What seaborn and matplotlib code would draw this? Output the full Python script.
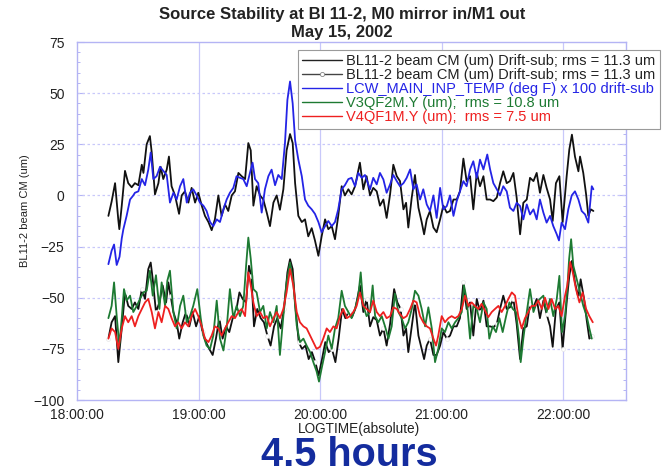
import numpy as np
import seaborn as sns
import matplotlib
matplotlib.use("Agg")
import matplotlib.pyplot as plt
from matplotlib.lines import Line2D
from matplotlib.ticker import MultipleLocator

sns.set_theme(style="white")
plt.rcParams['font.family'] = ['Liberation Sans', 'DejaVu Sans']

# ---- data: time in minutes after 18:00:00, values in um ----
beam_t = [15.5, 17.1, 18.8, 20.4, 20.9, 22.1, 23.7, 25.3, 27.0, 28.6,
          30.3, 32.0, 32.8, 34.4, 36.0, 36.9, 38.5, 40.2, 41.3, 42.6,
          44.3, 45.4, 46.7, 48.4, 50.4, 51.7, 53.3, 55.0, 56.6, 58.3,
          59.9, 61.6, 63.2, 64.9, 66.5, 68.1, 69.8, 71.4, 73.1, 74.7,
          76.4, 78.0, 79.7, 81.3, 83.0, 84.6, 85.8, 87.1, 88.7, 90.4,
          92.0, 93.7, 95.3, 97.0, 98.6, 100.2, 101.9, 103.5, 105.2, 106.5,
          107.7, 109.3, 111.0, 112.6, 114.2, 115.9, 117.5, 119.2, 120.8, 122.5,
          124.1, 125.8, 127.4, 129.0, 130.7, 132.3, 134.0, 135.6, 137.3, 139.7,
          141.4, 143.0, 144.7, 146.3, 148.0, 149.6, 151.3, 152.9, 154.6, 156.2,
          157.9, 159.5, 161.2, 162.5, 163.6, 165.3, 166.9, 168.6, 170.2, 171.4,
          172.7, 174.3, 176.0, 177.6, 179.3, 180.9, 182.6, 184.2, 185.9, 187.5,
          189.1, 190.8, 192.4, 194.1, 195.7, 197.4, 199.0, 200.7, 202.3, 204.0,
          205.6, 207.3, 208.9, 210.5, 212.2, 213.8, 215.5, 217.1, 218.8, 220.4,
          222.1, 223.7, 225.4, 227.0, 228.6, 230.3, 231.9, 233.6, 234.9, 236.5,
          238.2, 239.8, 241.8, 243.1, 244.4, 245.9, 247.6, 248.4, 250.0, 251.4,
          252.5, 253.7, 255.0]
beam_um = [-10, -3, 6, -12, -16.5, -5, 12, 6, 4, 6,
           5, 15, 11, 25, 29, 21, 0.5, 6, 14, 8,
           12.6, 19, 4.5, 0, -9, 0, 2, -3.5, 3.7, -3.5,
           1.3, -5, -10, -13, -17, -11.7, 0, -10, -4.4, -7.6,
           0, 2, 11, 9.4, 8, 25.6, 22, -5, 4.5, 0,
           -2, -8.4, -15, -3.5, 0, -7, 3, 22, 30, 25.6,
           6, -10, -13, -11.7, -20, -16, -22, -29.5, -20, -11.7,
           -16.5, -15, -21.4, -10, 4.5, 0, 3, 0.5, 4.5, 16,
           3, 9.4, 0, 3.7, 2, -5, -2, -11, 0.5, 15,
           9.4, 7, -6.8, -3.6, -15.7, -1, 10, -6, -13, -19,
           -11.7, -7.6, -15.7, -18, -11.7, -5, -8.4, -7.6, -2, -2,
           2, 18, 7, 9.4, -6.8, 11, 4.5, 9.4, -2, -2,
           -2.8, -1, 6, 11.8, 6, 7, 11, -1, -19, -3.6,
           -2, 8.6, 7, 11, 1.3, 10, 3.7, -2, -12.5, 6,
           9.4, -13, 9.4, 22.4, 29.7, 19, 11.8, 19, 11, 0.5,
           -10, -6.8, -7.6]

beam2_t = [15.5, 17.1, 18.8, 20.4, 22.1, 23.7, 25.3, 27.0, 28.6, 30.3,
           32.0, 33.6, 35.2, 36.4, 37.4, 39.0, 40.7, 42.3, 44.0, 45.1,
           46.2, 47.6, 49.2, 50.5, 52.2, 53.8, 55.5, 57.1, 58.8, 60.4,
           62.0, 63.7, 65.3, 67.0, 68.6, 70.3, 71.9, 73.6, 75.2, 76.9,
           78.5, 80.2, 81.8, 83.5, 84.9, 86.1, 87.4, 89.0, 90.7, 92.3,
           94.0, 95.6, 97.3, 98.9, 100.6, 102.2, 103.9, 105.2, 106.5, 107.8,
           109.5, 111.1, 112.8, 114.4, 116.0, 117.7, 119.3, 121.0, 122.6, 124.3,
           125.9, 127.6, 129.2, 130.9, 132.5, 134.1, 135.8, 137.4, 139.7, 141.4,
           143.0, 144.7, 146.3, 148.0, 149.6, 151.3, 152.9, 154.6, 156.6, 158.2,
           159.8, 161.2, 162.5, 163.6, 165.3, 166.9, 168.6, 170.2, 171.4, 172.7,
           174.3, 176.0, 177.6, 179.3, 180.9, 182.6, 184.2, 185.9, 187.5, 189.1,
           190.8, 192.4, 194.1, 195.7, 197.4, 199.0, 200.7, 202.3, 204.0, 205.6,
           207.3, 208.9, 210.5, 212.2, 213.8, 215.5, 217.1, 218.8, 220.4, 222.1,
           223.7, 225.4, 227.0, 228.6, 230.3, 231.9, 233.6, 234.9, 236.5, 238.2,
           239.8, 241.8, 243.1, 244.4, 245.9, 247.6, 248.7, 250.4, 251.7, 253.0,
           254.3]
beam2_um = [-70, -62, -59, -81.5, -65, -47.4, -54, -55.5, -52.3, -55.5,
            -45.8, -50.6, -36, -32.8, -41, -57, -52.3, -44, -52.3, -42.5,
            -49, -57, -62, -70, -62, -57, -64, -57, -64, -59,
            -66.8, -71.7, -75, -78, -70, -60, -70, -64, -66.8, -60,
            -57, -47.4, -50.6, -52.3, -34.4, -39.3, -64, -55.5, -60, -62,
            -68.5, -73.4, -64, -60, -65, -55.5, -37.6, -31.2, -36, -54,
            -71.7, -75, -73.4, -80, -76.6, -81.5, -88, -80, -71.7, -76.6,
            -75, -81.5, -70, -55.5, -60, -57, -59.5, -55.5, -44, -57,
            -50.6, -64, -59.5, -61, -68.5, -65, -73.4, -62.8, -45.8, -52.3,
            -55.5, -68.5, -65, -76.6, -64, -52.3, -68.5, -75, -80, -73.4,
            -70, -78, -78, -73.4, -66.8, -70, -68.5, -64, -64, -60,
            -42.5, -55.5, -52.3, -68.5, -50.6, -57, -51.4, -64, -64, -64.5,
            -62.8, -55.5, -49, -55.5, -54.7, -50.6, -62.8, -80, -65, -64,
            -53, -54.7, -50.6, -60, -51.4, -58, -64, -74, -55.5, -52.3,
            -75, -52.3, -39.3, -32, -42.5, -50, -41, -50.6, -61, -70,
            -68.5]

lcw_t = [15.5, 17.1, 18.3, 19.6, 21.0, 22.1, 22.9, 24.5, 26.2, 27.8,
         28.6, 30.3, 32.0, 33.6, 35.2, 36.4, 37.7, 39.3, 41.0, 42.6,
         44.3, 45.9, 47.6, 49.2, 50.9, 52.5, 54.2, 55.8, 57.4, 59.1,
         60.7, 62.4, 64.0, 65.7, 67.3, 69.0, 70.6, 72.3, 73.9, 75.5,
         77.2, 78.8, 80.5, 82.1, 83.8, 85.4, 86.7, 87.9, 89.5, 91.2,
         92.8, 94.5, 96.1, 97.8, 99.4, 101.1, 102.7, 103.9, 105.2, 106.5,
         107.7, 109.3, 111.0, 112.6, 114.2, 115.9, 117.5, 119.2, 120.8, 122.5,
         124.1, 125.8, 127.4, 129.0, 130.7, 132.3, 134.0, 135.6, 137.3, 138.9,
         140.6, 142.2, 144.7, 146.3, 148.0, 149.6, 151.3, 152.9, 154.6, 156.2,
         157.9, 159.5, 161.2, 162.8, 164.5, 166.1, 167.7, 169.4, 171.0, 172.7,
         174.3, 176.0, 177.6, 179.3, 180.9, 182.6, 184.2, 185.9, 187.5, 189.1,
         190.8, 192.4, 194.1, 195.7, 197.4, 199.0, 200.7, 202.6, 204.0, 205.6,
         207.3, 208.9, 210.5, 212.2, 213.8, 215.5, 217.1, 218.8, 220.4, 222.1,
         223.7, 225.4, 227.0, 228.6, 230.3, 231.9, 233.6, 235.2, 236.9, 238.0,
         239.3, 241.0, 242.6, 244.3, 245.9, 247.6, 249.2, 250.9, 252.5, 254.2,
         255.0]
lcw_val = [-33.6, -27, -24, -34, -30, -21, -16.5, -10, -2, 0,
           1.3, 2, 8, 5, 12.6, 21, 8, 9.4, 14, 12,
           10, -3.5, 1.3, -2, 4.5, 8, -3.5, 1.3, 3, 0,
           -3.5, -5, -7.6, -13, -15, -11.7, -13, -6.8, -2, 1.3,
           3.7, 9.4, 8.6, 8, 4.5, 11, 16, 8, 6, -8.4,
           3, 9.4, 12.6, 5, 10, 8, 25.6, 46.7, 55.7, 45,
           27, 17.5, 9.4, -2, -5, -6.8, -9, -13, -18, -15,
           -12.5, -15, -13, -6.8, 3, 5, 8, 8.6, 4.5, 11,
           8.6, 10, 3, 8.6, 5.4, 11, 7.8, 1.3, 5.4, 10,
           7, 4.5, 6, 8.6, 12.7, 3, 5.4, -2, 3, -4.4,
           -7.6, 0, -11, 3.7, -6.8, -5.2, 0, -10, -2.8, 2,
           7, 4.5, 12.7, 16.7, 8.6, 17.5, 12.7, 20, 12.7, 6,
           3, 0, 4.5, 2, -6, -7.6, -3.6, -5.2, -11.7, -4.4,
           -9.3, -6.8, -11.7, -2, -8.4, -13.3, -10, -15, -19, -22,
           -13.3, -16.5, -6.8, 0, 2, -2, -7.6, -9.3, -13.3, 4.5,
           3]

v3_t = [15.5, 17.1, 18.3, 19.6, 20.9, 22.1, 23.2, 24.5, 26.2, 27.8,
        29.5, 31.1, 32.8, 34.4, 36.0, 37.4, 39.0, 40.7, 41.8, 43.5,
        44.6, 45.9, 47.6, 49.2, 50.9, 52.5, 54.2, 55.8, 57.4, 59.4,
        61.1, 62.4, 64.0, 65.7, 67.3, 69.0, 70.6, 72.3, 73.9, 75.5,
        77.2, 78.8, 80.5, 82.1, 83.5, 84.6, 85.8, 87.1, 88.7, 90.4,
        92.0, 93.7, 95.3, 97.0, 98.6, 100.2, 101.9, 103.5, 105.2, 106.8,
        108.5, 110.1, 111.8, 113.4, 115.1, 116.7, 118.3, 119.5, 120.8, 122.5,
        124.1, 125.8, 127.4, 129.0, 130.7, 132.3, 134.0, 135.6, 137.3, 138.9,
        140.1, 141.4, 143.0, 144.7, 146.0, 147.2, 148.8, 150.5, 152.1, 153.8,
        155.4, 157.0, 158.7, 160.3, 162.0, 163.6, 165.3, 166.9, 168.6, 170.2,
        171.9, 173.5, 175.2, 176.8, 178.4, 180.1, 181.7, 183.4, 185.0, 186.7,
        188.3, 190.0, 191.1, 192.4, 194.1, 195.7, 197.4, 199.0, 200.7, 202.3,
        203.6, 205.3, 206.9, 208.6, 210.2, 211.9, 213.5, 215.2, 216.8, 218.3,
        219.1, 220.4, 222.1, 223.7, 225.4, 227.0, 228.6, 230.3, 231.9, 233.6,
        235.2, 236.9, 238.2, 239.5, 241.0, 242.1, 243.0, 244.0, 245.1, 246.8,
        248.4, 250.0, 251.7, 253.0, 254.2]
v3_um = [-60, -54, -42.5, -59, -73.4, -60, -45.8, -51.4, -49, -57,
         -54, -50.6, -47.4, -46.6, -36.8, -49, -39, -55.5, -42.5, -54,
         -41.7, -36.8, -57, -65, -54, -49, -62, -59, -54, -45.8,
         -60, -68.5, -73.4, -75, -68.5, -51.4, -70, -75.8, -65, -45.8,
         -60, -54, -59, -54, -34.4, -20.6, -31, -45.8, -47.4, -57,
         -54, -65, -57, -62, -54, -78, -59, -42.5, -32.8, -42.5,
         -63.6, -71.7, -70, -73.4, -76.6, -81.5, -86, -91, -84.6, -76.6,
         -68.5, -75, -65, -60, -46.6, -54, -57, -60, -55.5, -49,
         -37.6, -54, -59, -57, -44, -59, -62, -59, -64, -70,
         -64, -48, -57, -60, -65, -62, -55.5, -46.6, -49, -55.5,
         -64, -54.7, -65, -81.5, -75, -65, -66.8, -62, -65, -62,
         -60, -57, -44, -50.6, -70, -54, -55.5, -62, -52.3, -55.5,
         -70, -64, -66.8, -60, -66.8, -59, -52.3, -55.5, -57, -70,
         -81.5, -70, -57, -45.8, -57, -52.3, -50.6, -49, -57, -50.6,
         -59, -50.6, -39.3, -66.8, -59, -45.8, -31.2, -21.4, -34.4, -41,
         -47.4, -54, -59, -65, -70]

v4_t = [15.5, 17.1, 18.8, 20.4, 22.1, 23.7, 25.3, 27.0, 28.6, 30.3,
        32.0, 33.6, 35.2, 36.9, 38.5, 40.2, 41.8, 43.5, 45.1, 46.7,
        48.4, 50.0, 51.7, 53.3, 55.0, 56.6, 58.3, 59.9, 61.6, 63.2,
        64.9, 66.5, 68.1, 69.8, 71.4, 73.1, 74.7, 76.4, 78.0, 79.7,
        81.3, 83.0, 84.6, 85.8, 87.1, 88.7, 90.4, 92.0, 93.7, 95.3,
        97.0, 98.6, 100.2, 101.9, 103.5, 105.2, 106.8, 108.5, 110.1, 111.8,
        113.4, 115.1, 116.7, 118.3, 120.0, 121.6, 123.3, 124.9, 126.6, 128.2,
        129.9, 131.5, 133.2, 134.8, 136.4, 138.1, 139.7, 141.4, 143.0, 144.7,
        146.3, 148.0, 149.6, 151.3, 152.9, 154.6, 156.2, 157.9, 159.5, 161.2,
        162.8, 164.5, 166.1, 167.7, 169.4, 171.0, 172.7, 174.3, 176.0, 177.3,
        178.4, 180.1, 181.7, 183.4, 185.0, 186.7, 188.3, 190.0, 191.6, 193.3,
        194.9, 196.5, 198.2, 199.8, 201.5, 203.1, 204.8, 206.4, 208.1, 209.7,
        211.4, 213.0, 214.7, 216.3, 217.9, 219.6, 221.2, 222.9, 224.5, 226.2,
        227.8, 229.5, 231.1, 232.8, 234.4, 236.1, 237.7, 239.3, 241.0, 242.1,
        243.5, 244.8, 246.4, 248.1, 249.7, 251.4, 253.0, 254.7]
v4_um = [-70, -65, -66.8, -75, -65, -59, -62, -59, -64, -59,
         -55.5, -52.3, -50.6, -57, -65, -57, -62, -54, -55.5, -60,
         -64, -62, -65, -62, -64, -59, -55.5, -59, -64, -70,
         -71.7, -68.5, -64, -65, -68.5, -65, -62, -59, -60, -57,
         -55.5, -59, -37.6, -44, -52.3, -59, -57, -60, -59, -64,
         -60, -57, -60, -55.5, -47.4, -36, -44, -57, -62, -64,
         -65, -68.5, -71.7, -75, -74, -70, -65, -66.8, -64, -65,
         -59, -55.5, -60, -59, -57, -54, -47.4, -54, -55.5, -57,
         -51.4, -57, -59, -57, -60, -59, -54.7, -55.5, -58, -60,
         -59, -55.5, -51.4, -52.3, -59, -62, -64, -65, -70, -73.4,
         -68.5, -59, -62, -60, -59, -60, -59, -55.5, -49, -54,
         -52.3, -54, -55.5, -53, -56.3, -59.5, -57, -55.5, -54, -57,
         -54, -50.6, -47.4, -49, -59, -65, -60, -57, -54, -54,
         -51.4, -55.5, -50, -55.5, -50.6, -55.5, -54, -59, -49, -44,
         -32.5, -37.6, -45.8, -52.3, -47.4, -55.5, -59, -62]

legend_labels = [
    "BL11-2 beam CM (um) Drift-sub; rms = 11.3 um",
    "BL11-2 beam CM (um) Drift-sub; rms = 11.3 um",
    "LCW_MAIN_INP_TEMP (deg F) x 100 drift-sub",
    "V3QF2M.Y (um);  rms = 10.8 um",
    "V4QF1M.Y (um);  rms = 7.5 um",
]
hour_ticks = [18, 19, 20, 21, 22]
hour_labels = ["18:00:00", "19:00:00", "20:00:00", "21:00:00", "22:00:00"]
y_ticks = [-100, -75, -50, -25, 0, 25, 50, 75]

# ---- styling ----
C_BLACK = "#111111"
C_BLUE = "#2424e6"
C_GREEN = "#1d7a32"
C_RED = "#ee2020"
C_FRAME = "#b4b4f4"
C_GRID = "#c8c8fa"


def hours(minutes):
    return 18 + np.asarray(minutes, dtype=float) / 60.0


fig = plt.figure(figsize=(6.72, 4.75), dpi=100)
ax = fig.add_axes([77 / 672, 75 / 475, 549 / 672, 358 / 475])

lw = 1.3
sns.lineplot(x=hours(beam_t), y=beam_um, ax=ax, color=C_BLACK, lw=lw,
             estimator=None, sort=False, zorder=3)
sns.lineplot(x=hours(lcw_t), y=lcw_val, ax=ax, color=C_BLUE, lw=lw,
             estimator=None, sort=False, zorder=4)
sns.lineplot(x=hours(beam2_t), y=beam2_um, ax=ax, color=C_BLACK, lw=lw,
             estimator=None, sort=False, zorder=3, marker="o", markevery=5,
             markersize=2.8, mfc="white", mec="#e6e6e6", mew=0.5)
sns.lineplot(x=hours(v3_t), y=v3_um, ax=ax, color=C_GREEN, lw=lw,
             estimator=None, sort=False, zorder=4)
sns.lineplot(x=hours(v4_t), y=v4_um, ax=ax, color=C_RED, lw=lw,
             estimator=None, sort=False, zorder=5)

ax.set_xlim(18, 22 + 31.1 / 60)
ax.set_ylim(-100, 75)
ax.set_xticks(hour_ticks)
ax.set_xticklabels(hour_labels)
ax.set_yticks(y_ticks)
ax.yaxis.set_minor_locator(MultipleLocator(5))

ax.tick_params(axis="both", labelsize=10, labelcolor="#222222")
ax.tick_params(axis="x", length=0, pad=6)
ax.tick_params(axis="y", which="major", direction="in", length=5,
               color=C_FRAME, width=0.8, pad=9, left=True, right=True)
ax.tick_params(axis="y", which="minor", direction="in", length=2.5,
               color=C_FRAME, width=0.7, left=True, right=True)

for side in ["left", "right", "top", "bottom"]:
    ax.spines[side].set_visible(True)
    ax.spines[side].set_color(C_FRAME)
    ax.spines[side].set_linewidth(1.0)

# dotted value grid, solid hour grid
for yv in y_ticks[1:-1]:
    ax.axhline(yv, color=C_GRID, lw=0.9, ls=(0, (2, 2)), zorder=1)
for xv in hour_ticks[1:]:
    ax.axvline(xv, color=C_GRID, lw=0.9, zorder=1)

ax.set_ylabel("BL11-2 beam CM (um)", fontsize=8, color="#222222")
ax.yaxis.set_label_coords(-47 / 549, 0.53)
ax.set_xlabel("")

# titles and captions
fig.text(342 / 672, 1 - 15 / 475, "Source Stability at Bl 11-2, M0 mirror in/M1 out",
         ha="center", va="center", fontsize=12, fontweight="bold", color="#222222")
fig.text(342 / 672, 1 - 32 / 475, "May 15, 2002",
         ha="center", va="center", fontsize=12, fontweight="bold", color="#222222")
fig.text(359 / 672, 1 - 429 / 475, "LOGTIME(absolute)",
         ha="center", va="center", fontsize=9.8, color="#222222")
fig.text(349 / 672, 1 - 466 / 475, "4.5 hours",
         ha="center", va="baseline", fontsize=28.5, fontweight="bold", color="#142c9e")

# legend
handles = [
    Line2D([0, 0.5, 1], [0, 0, 0], color="#222222", lw=1.0),
    Line2D([0, 0.5, 1], [0, 0, 0], color="#444444", lw=1.0, marker="o",
           markevery=[1], markersize=3, mfc="white", mec="#888888", mew=0.6),
    Line2D([0, 0.5, 1], [0, 0, 0], color=C_BLUE, lw=1.0),
    Line2D([0, 0.5, 1], [0, 0, 0], color=C_GREEN, lw=1.0),
    Line2D([0, 0.5, 1], [0, 0, 0], color=C_RED, lw=1.0),
]
leg = fig.legend(handles, legend_labels, loc="upper left",
                 bbox_to_anchor=(298 / 672, 1 - 50 / 475), frameon=True,
                 fontsize=10.5, handlelength=2.7, handletextpad=0.3,
                 labelspacing=0.0, borderpad=0.3, borderaxespad=0,
                 fancybox=False, edgecolor="#9a9a9a", framealpha=1)
leg.get_frame().set_linewidth(0.8)
for txt, col in zip(leg.get_texts(), ["#222222", "#222222", C_BLUE, C_GREEN, C_RED]):
    txt.set_color(col)
leg.set_zorder(10)

fig.savefig("out.png", dpi=100, facecolor="white")
